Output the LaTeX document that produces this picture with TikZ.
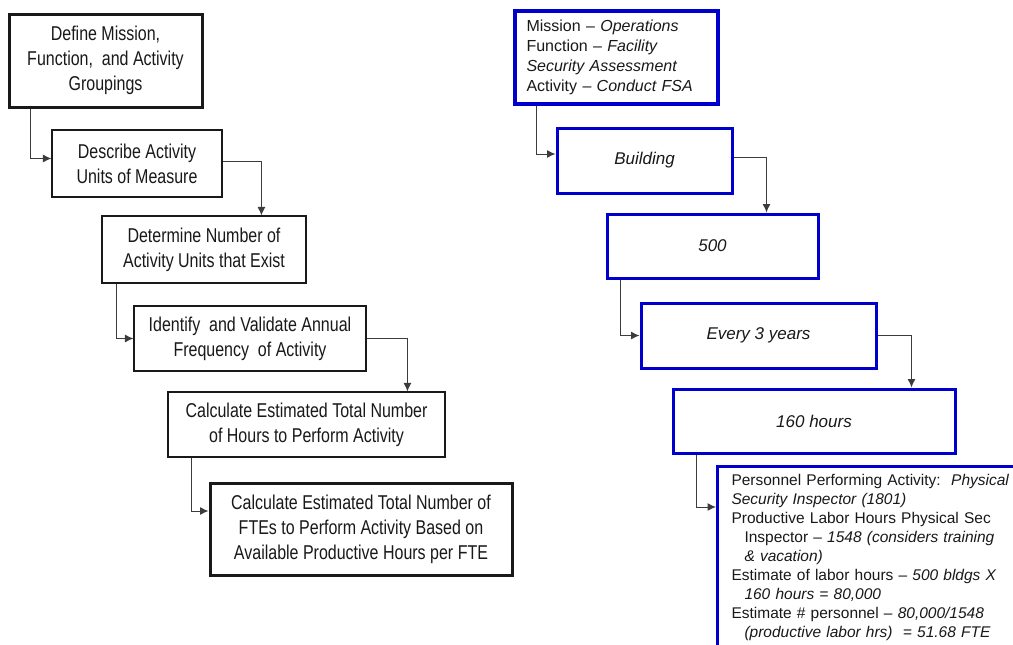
\documentclass[tikz,border=0pt]{standalone}
\usepackage{fontspec}
\setmainfont{Liberation Sans}
\newfontfamily\narrowfont[FakeStretch=0.8]{Liberation Sans}
\usetikzlibrary{arrows.meta}
\definecolor{boxblue}{RGB}{0,0,204}
\definecolor{ink}{RGB}{25,25,25}
\begin{document}
\begin{tikzpicture}[x=1pt,y=-1pt,
  lbox/.style={draw=ink, line width=1.1pt, align=center, inner sep=0pt,
    font=\narrowfont\fontsize{20}{25}\selectfont, text=ink},
  lthick/.style={lbox, line width=3pt},
  rbox/.style={draw=boxblue, line width=3pt, inner sep=0pt,
    font=\fontsize{17}{20}\selectfont\itshape, text=ink},
  conn/.style={draw=ink!85, line width=1pt, -{Latex[length=8.5pt,width=8pt]}}]
\useasboundingbox (0,0) rectangle (1013,645);
\clip (0,0) rectangle (1013,645);
\fill[white] (0,0) rectangle (1013,645);

% left column
\node[lthick, minimum width=193pt, minimum height=93pt] (b1) at (105.5,60.5)
  {Define Mission,\\Function, \ and Activity\\Groupings};
\node[lbox, minimum width=170pt, minimum height=67pt] (b2) at (137,163.5)
  {Describe Activity\\Units of Measure};
\node[lbox, minimum width=204pt, minimum height=67pt] (b3) at (204,249.5)
  {Determine Number of\\Activity Units that Exist};
\node[lbox, minimum width=232pt, minimum height=65pt] (b4) at (250,338.5)
  {Identify \ and Validate Annual\\Frequency \ of Activity};
\node[lbox, minimum width=277pt, minimum height=65pt] (b5) at (306.5,424.5)
  {Calculate Estimated Total Number\\of Hours to Perform Activity};
\node[lthick, minimum width=302pt, minimum height=92pt] (b6) at (361,529)
  {Calculate Estimated Total Number of\\FTEs to Perform Activity Based on\\Available Productive Hours per FTE};

\draw[conn] ([xshift=23pt]b1.south west) |- ([yshift=5pt]b2.west);
\draw[conn] ([yshift=2.5pt]b2.east) -| ([xshift=160pt]b3.north west);
\draw[conn] ([xshift=15pt]b3.south west) |- (b4.west);
\draw[conn] (b4.east) -| ([xshift=240pt]b5.north west);
\draw[conn] ([xshift=24pt]b5.south west) |- ([yshift=18pt]b6.west);

% right column
\node[rbox, line width=3.5pt, font=\fontsize{16}{20}\selectfont, align=left,
  text width=180pt, minimum width=203pt, minimum height=93pt] (r1) at (616.5,57.5)
  {Mission -- \textit{Operations}\\Function -- \textit{Facility}\\\textit{Security Assessment}\\Activity -- \textit{Conduct FSA}};
\node[rbox, minimum width=175pt, minimum height=65pt] (r2) at (644.5,160.5) {Building};
\node[rbox, minimum width=211pt, minimum height=64pt] (r3) at (712.5,246) {500};
\node[rbox, minimum width=235pt, minimum height=65pt] (r4) at (758.5,335.5) {Every 3 years};
\node[rbox, minimum width=282pt, minimum height=64pt] (r5) at (814,421) {160 hours};
\node[rbox, font=\fontsize{15.5}{19}\selectfont, anchor=north west, align=left,
  text width=290pt, inner xsep=14pt, inner ysep=8pt] (r6) at (716,465)
  {Personnel Performing Activity:\ \ \textit{Physical}\\
   \textit{Security Inspector (1801)}\\
   Productive Labor Hours Physical Sec\\
   \hspace*{13pt}Inspector -- \textit{1548 (considers training}\\
   \hspace*{13pt}\textit{\& vacation)}\\
   Estimate of labor hours -- \textit{500 bldgs X}\\
   \hspace*{13pt}\textit{160 hours = 80,000}\\
   Estimate \# personnel -- \textit{80,000/1548}\\
   \hspace*{13pt}\textit{(productive labor hrs) \ = 51.68 FTE}};

\draw[conn] ([xshift=23pt]r1.south west) |- ([yshift=6.5pt]r2.west);
\draw[conn] ([yshift=3.5pt]r2.east) -| ([xshift=161pt]r3.north west);
\draw[conn] ([xshift=15pt]r3.south west) |- (r4.west);
\draw[conn] (r4.east) -| ([xshift=240pt]r5.north west);
\draw[conn] ([xshift=25pt]r5.south west) |- ([yshift=-42pt]r6.north west);
\end{tikzpicture}
\end{document}
